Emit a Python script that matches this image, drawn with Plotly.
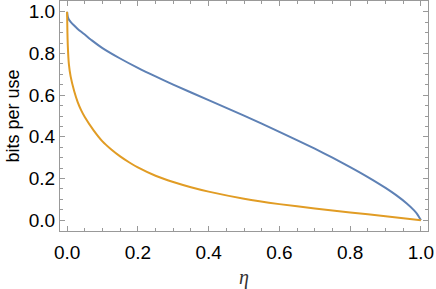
import plotly.graph_objects as go

eta_blue = [0.0, 0.002, 0.005, 0.01, 0.02, 0.03, 0.04, 0.05, 0.07, 0.1, 0.15, 0.2, 0.25, 0.3, 0.4, 0.5, 0.6, 0.7, 0.75, 0.8, 0.85, 0.9, 0.93, 0.96, 0.98, 0.99, 1.0]
bits_blue = [1.0, 0.976, 0.963, 0.952, 0.934, 0.918, 0.904, 0.891, 0.863, 0.826, 0.776, 0.731, 0.69, 0.651, 0.576, 0.502, 0.424, 0.343, 0.3, 0.255, 0.207, 0.155, 0.12, 0.08, 0.048, 0.028, 0.0]

eta_orange = [0.0, 0.001, 0.002, 0.005, 0.01, 0.02, 0.03, 0.04, 0.05, 0.075, 0.1, 0.125, 0.15, 0.175, 0.2, 0.25, 0.3, 0.35, 0.4, 0.5, 0.6, 0.7, 0.8, 0.9, 1.0]
bits_orange = [1.0, 0.9, 0.84, 0.75, 0.69, 0.62, 0.567, 0.527, 0.495, 0.431, 0.378, 0.339, 0.306, 0.278, 0.253, 0.213, 0.183, 0.158, 0.137, 0.103, 0.077, 0.056, 0.037, 0.019, 0.0]

x_ticks = [0.0, 0.2, 0.4, 0.6, 0.8, 1.0]
x_labels = ["0.0", "0.2", "0.4", "0.6", "0.8", "1.0"]
y_ticks = [0.0, 0.2, 0.4, 0.6, 0.8, 1.0]
y_labels = ["0.0", "0.2", "0.4", "0.6", "0.8", "1.0"]

fig = go.Figure()
fig.add_trace(go.Scatter(x=eta_blue, y=bits_blue, mode="lines",
                         line=dict(color="#5E81B5", width=2, shape="spline", smoothing=0.5),
                         showlegend=False))
fig.add_trace(go.Scatter(x=eta_orange, y=bits_orange, mode="lines",
                         line=dict(color="#E19C24", width=2, shape="spline", smoothing=0.5),
                         showlegend=False))

axis_common = dict(
    showgrid=False, zeroline=False,
    showline=True, linecolor="#999999", linewidth=1, mirror="allticks",
    ticks="inside", ticklen=5, tickwidth=1, tickcolor="#999999",
    tickfont=dict(family="Liberation Sans, Arial", size=19, color="black"),
    minor=dict(ticks="inside", ticklen=3, tickcolor="#999999", dtick=0.05, showgrid=False),
)

fig.update_layout(
    width=436, height=289,
    margin=dict(l=60, r=8, t=1, b=58),
    paper_bgcolor="white", plot_bgcolor="white",
    xaxis=dict(range=[-0.02, 1.02], tickvals=x_ticks, ticktext=x_labels,
               title=dict(text="<i>η</i>", font=dict(family="Liberation Serif, Times New Roman", size=20, color="#333"), standoff=9),
               ticklabelstandoff=4,
               **axis_common),
    yaxis=dict(range=[-0.052, 1.052], tickvals=y_ticks, ticktext=y_labels,
               title=dict(text="bits per use", font=dict(family="Liberation Sans, Arial", size=18, color="black"), standoff=4),
               **axis_common),
)

fig.write_html("out.html", config={"displayModeBar": False},
               post_script="document.body.style.margin='0';")
